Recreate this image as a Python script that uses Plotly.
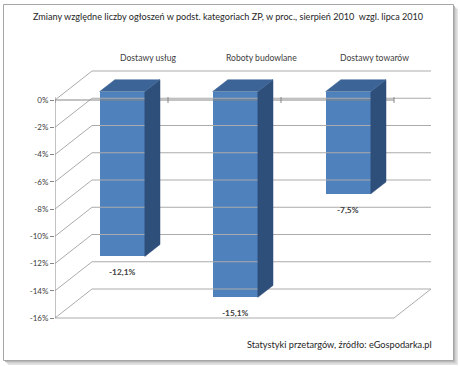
import plotly.graph_objects as go

# ---------------- data ----------------
categories = ["Dostawy usług", "Roboty budowlane", "Dostawy towarów"]
values = [-12.1, -15.1, -7.5]
value_labels = ["-12,1%", "-15,1%", "-7,5%"]
y_ticks = [0, -2, -4, -6, -8, -10, -12, -14, -16]
y_tick_labels = ["0%", "-2%", "-4%", "-6%", "-8%", "-10%", "-12%", "-14%", "-16%"]
title_text = ("Zmiany względne liczby ogłoszeń w podst. kategoriach ZP, w proc., "
              "sierpień 2010  wzgl. lipca 2010")
source_text = "Statystyki przetargów, źródło: eGospodarka.pl"

# ---------------- geometry / style ----------------
W, H = 460, 366
ML, MR, MT, MB = 55, 15, 40, 36
PLOT_W, PLOT_H = W - ML - MR, H - MT - MB
CAT_PX = 113.0        # pixels per category
VAL_PX = 13.625       # pixels per 1 %
DEPTH_DX = 37 / CAT_PX   # full depth shift in x units
DEPTH_DY = 29 / VAL_PX   # full depth shift in y units
BAR_D0, BAR_D1 = 0.29, 0.70
BAR_W = 0.40
Y_LOW = min(y_ticks)
FONT = "Lato"
TXT = "#404040"
GRID = "#ABABAB"
AXIS = "#868686"
FRONT, TOP, SIDE = "#4F81BD", "#3D6496", "#2F4F7B"

x_range = [-0.5, -0.5 + PLOT_W / CAT_PX]
y_top = (100 - MT) / VAL_PX
y_range = [y_top - PLOT_H / VAL_PX, y_top]


def px_to_paper(px, py):
    return (px - ML) / PLOT_W, 1 - (py - MT) / PLOT_H


fig = go.Figure()

# ---------- walls / floor / gridlines ----------
n = len(categories)
xl, xr = -0.5, n - 0.5
gx, gy = [], []
for t in y_ticks:
    gx += [xl + DEPTH_DX, xr + DEPTH_DX, None]
    gy += [t + DEPTH_DY, t + DEPTH_DY, None]
    gx += [xl, xl + DEPTH_DX, None]
    gy += [t, t + DEPTH_DY, None]
gx += [xl, xr, xr + DEPTH_DX, None]
gy += [Y_LOW, Y_LOW, Y_LOW + DEPTH_DY, None]
fig.add_trace(go.Scatter(x=gx, y=gy, mode="lines", line=dict(color=GRID, width=1),
                         hoverinfo="skip", showlegend=False))

# ---------- axes lines ----------
ax_x = [xl, xl, None, xl, xr, None]
ax_y = [Y_LOW, 0, None, 0, 0, None]
tick_h = 3 / VAL_PX
for i in range(n + 1):
    ax_x += [xl + i, xl + i, None]
    ax_y += [-tick_h, tick_h, None]
fig.add_trace(go.Scatter(x=ax_x, y=ax_y, mode="lines", line=dict(color=AXIS, width=1),
                         hoverinfo="skip", showlegend=False))

# ---------- bars (3D look) ----------
off_x = BAR_D0 * DEPTH_DX
off_y = BAR_D0 * DEPTH_DY
ddx = (BAR_D1 - BAR_D0) * DEPTH_DX
ddy = (BAR_D1 - BAR_D0) * DEPTH_DY
bar_x = [i + off_x for i in range(n)]

for i, v in enumerate(values):
    x_l = bar_x[i] - BAR_W / 2
    x_r = bar_x[i] + BAR_W / 2
    fig.add_trace(go.Scatter(
        x=[x_r, x_r + ddx, x_r + ddx, x_r, x_r],
        y=[off_y, off_y + ddy, off_y + v + ddy, off_y + v, off_y],
        mode="lines", fill="toself", fillcolor=SIDE, line=dict(color=SIDE, width=0.5),
        hoverinfo="skip", showlegend=False))
    fig.add_trace(go.Scatter(
        x=[x_l, x_r, x_r + ddx, x_l + ddx, x_l],
        y=[off_y, off_y, off_y + ddy, off_y + ddy, off_y],
        mode="lines", fill="toself", fillcolor=TOP, line=dict(color=TOP, width=0.5),
        hoverinfo="skip", showlegend=False))

fig.add_trace(go.Bar(x=bar_x, y=values, base=[off_y] * n, width=BAR_W,
                     marker=dict(color=FRONT, line=dict(width=0)),
                     hoverinfo="skip", showlegend=False))

# ---------- annotations ----------
ann = []
for i, lab in enumerate(value_labels):
    ann.append(dict(x=bar_x[i], y=off_y + values[i], xref="x", yref="y",
                    text="<b>" + lab + "</b>", showarrow=False, yshift=-16,
                    font=dict(family=FONT, size=8.3, color=TXT)))
for i, c in enumerate(categories):
    ann.append(dict(x=i + DEPTH_DX, y=DEPTH_DY + 13 / VAL_PX, xref="x", yref="y",
                    text=c, showarrow=False, font=dict(family=FONT, size=8.6, color=TXT)))
tx, ty = px_to_paper(228, 17)
ann.append(dict(x=tx, y=ty, xref="paper", yref="paper", text=title_text, showarrow=False,
                xanchor="center", yanchor="middle", font=dict(family=FONT, size=9.1, color="#262626")))
sx, sy = px_to_paper(434, 344)
ann.append(dict(x=sx, y=sy, xref="paper", yref="paper", text=source_text, showarrow=False,
                xanchor="right", yanchor="middle", font=dict(family=FONT, size=9.2, color="#262626")))

# ---------- frame with shadow ----------
shapes = []
for off, col in [(4.5, "#E4E4E4"), (3, "#CFCFCF"), (1.5, "#B8B8B8")]:
    x0, y0 = px_to_paper(3.5 + off, 4.5 + off)
    x1, y1 = px_to_paper(453.5 + off, 360.5 + off)
    shapes.append(dict(type="rect", xref="paper", yref="paper", x0=x0, y0=y0, x1=x1, y1=y1,
                       fillcolor=col, line=dict(width=0), layer="below"))
x0, y0 = px_to_paper(3.5, 4.5)
x1, y1 = px_to_paper(453.5, 360.5)
shapes.append(dict(type="rect", xref="paper", yref="paper", x0=x0, y0=y0, x1=x1, y1=y1,
                   fillcolor="white", line=dict(color="#A6A6A6", width=1), layer="below"))

fig.update_layout(
    width=W, height=H,
    margin=dict(l=ML, r=MR, t=MT, b=MB, pad=0),
    paper_bgcolor="white", plot_bgcolor="rgba(0,0,0,0)",
    showlegend=False, bargap=0,
    xaxis=dict(range=x_range, visible=False, fixedrange=True),
    yaxis=dict(range=y_range, tickvals=y_ticks, ticktext=y_tick_labels,
               ticks="outside", ticklen=4, tickcolor=AXIS, tickwidth=1,
               showgrid=False, zeroline=False, showline=False, automargin=False,
               tickfont=dict(family=FONT, size=8, color=TXT), fixedrange=True),
    annotations=ann, shapes=shapes,
)

fig.write_html("out.html", config={"displayModeBar": False},
               post_script="document.body.style.margin='0';document.body.style.overflow='hidden';")
